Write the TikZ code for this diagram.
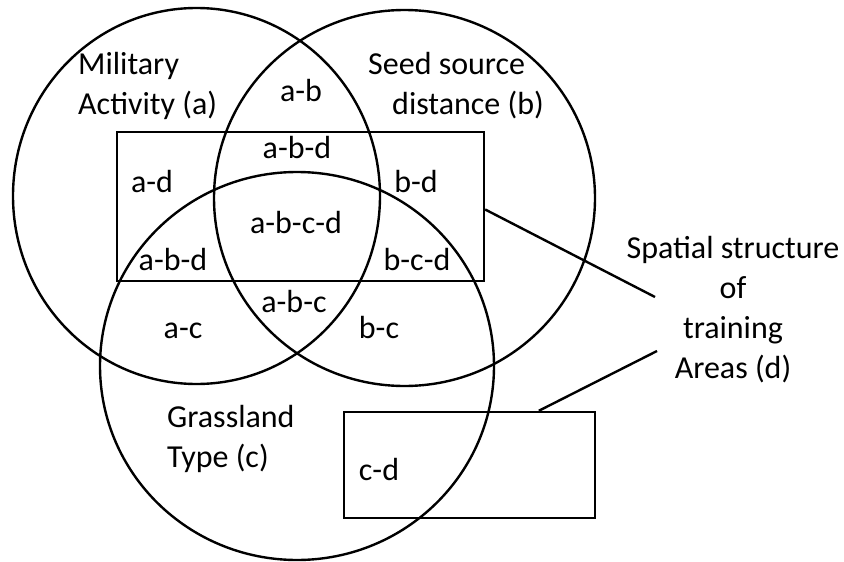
\documentclass[tikz,border=0pt]{standalone}
\usepackage{fontspec}
\setmainfont{Carlito}
\usetikzlibrary{shapes.geometric,calc}
\begin{document}
\begin{tikzpicture}[x=1pt,y=-1pt,
  shape line/.style={line width=2.4pt,black},
  set/.style={shape line,draw,ellipse,inner sep=0pt},
  zone/.style={shape line,draw,rectangle,inner sep=0pt},
  lbl/.style={font=\fontsize{32}{40}\selectfont,inner sep=0pt,anchor=base},
  mlbl/.style={font=\fontsize{32}{40}\selectfont,inner sep=0pt}
]
\useasboundingbox (0,0) rectangle (844,562);
% sets
\node[set,minimum width=367pt,minimum height=376pt] (ca) at (196.5,196) {};
\node[set,minimum width=381pt,minimum height=376pt] (cb) at (404.5,198) {};
\node[set,minimum width=394pt,minimum height=388pt] (cc) at (297,366) {};
% training area rectangles
\node[zone,minimum width=367pt,minimum height=149pt] (r1) at (300.5,206.5) {};
\node[zone,minimum width=251pt,minimum height=106pt] (r2) at (469.5,465) {};
% labels
\node[mlbl,align=left,anchor=north west] (la) at (78,52) {Military\\Activity (a)};
\node[mlbl,align=left,anchor=north west] (lb) at (368,52) {Seed source\\\hspace*{24pt}distance (b)};
\node[mlbl,align=left,anchor=north west] (lc) at (167,405) {Grassland\\Type (c)};
\node[mlbl,align=center,anchor=north] (ld) at (733,236) {Spatial structure\\of\\training\\Areas (d)};
\node[lbl] (ab) at (301,101) {a-b};
\node[lbl] (abd1) at (297,158) {a-b-d};
\node[lbl] (ad) at (152,192) {a-d};
\node[lbl] (bd) at (416,192) {b-d};
\node[lbl] (abcd) at (296,233) {a-b-c-d};
\node[lbl] (abd2) at (173,270) {a-b-d};
\node[lbl] (bcd) at (417,270) {b-c-d};
\node[lbl] (abc) at (294,312) {a-b-c};
\node[lbl] (ac) at (183,338) {a-c};
\node[lbl] (bc) at (379,338) {b-c};
\node[lbl] (cd) at (379,480) {c-d};
% connectors
\coordinate (e1) at (655,297);
\coordinate (e2) at (657,351);
\draw[shape line] ($(r1.east)+(0,3)$) -- (e1);
\draw[shape line] ($(r2.north west)+(196,0)$) -- (e2);
\end{tikzpicture}
\end{document}
